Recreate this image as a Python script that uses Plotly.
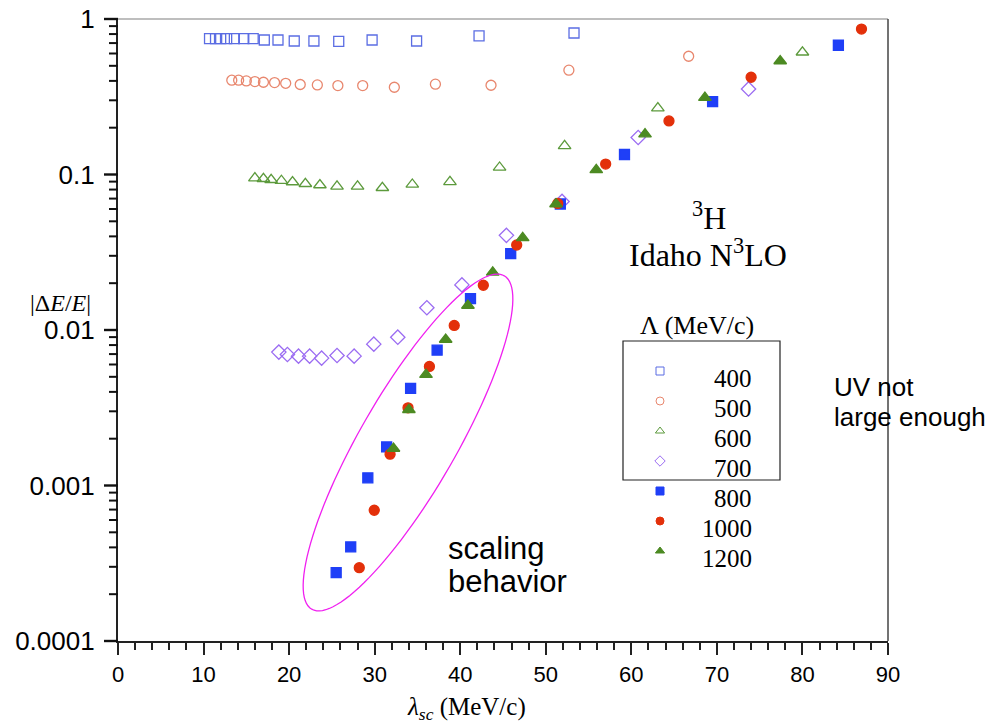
import numpy as np
import plotly.graph_objects as go

# ---------------- data ----------------
x400 = [10.7, 11.4, 12.0, 12.7, 13.6, 14.7, 15.8, 17.1, 18.7, 20.6, 22.9, 25.8, 29.7, 34.9, 42.2, 53.3]
y400 = [0.747, 0.747, 0.747, 0.747, 0.747, 0.747, 0.747, 0.733, 0.733, 0.722, 0.722, 0.719, 0.733, 0.722, 0.778, 0.813]

x500 = [13.3, 14.1, 15.0, 16.0, 17.0, 18.3, 19.6, 21.3, 23.3, 25.7, 28.6, 32.3, 37.1, 43.6, 52.7, 66.7]
y500 = [0.404, 0.404, 0.400, 0.396, 0.392, 0.390, 0.386, 0.379, 0.377, 0.373, 0.373, 0.364, 0.381, 0.375, 0.469, 0.576]

x600 = [16.0, 17.0, 17.9, 19.1, 20.4, 21.9, 23.6, 25.6, 28.0, 30.9, 34.4, 38.8, 44.6, 52.2, 63.1, 80.0]
y600 = [0.0948, 0.0939, 0.0925, 0.0912, 0.0895, 0.0872, 0.0856, 0.0839, 0.0839, 0.0822, 0.0863, 0.0897, 0.111, 0.153, 0.267, 0.611]

x700 = [18.8, 19.8, 21.1, 22.4, 23.8, 25.6, 27.6, 29.9, 32.7, 36.1, 40.2, 45.4, 51.9, 60.8, 73.7]
y700 = [0.00721, 0.00696, 0.00679, 0.00679, 0.00659, 0.00686, 0.00679, 0.00811, 0.00899, 0.0139, 0.0195, 0.0406, 0.0671, 0.173, 0.355]

x800 = [25.5, 27.2, 29.2, 31.4, 34.2, 37.3, 41.2, 45.9, 51.7, 59.2, 69.5, 84.2]
y800 = [0.000275, 0.000403, 0.00112, 0.00177, 0.00421, 0.00742, 0.0159, 0.0310, 0.0646, 0.1345, 0.294, 0.678]

x1000 = [28.2, 29.95, 31.8, 33.9, 36.4, 39.3, 42.7, 46.6, 51.4, 57.0, 64.4, 74.0, 86.9]
y1000 = [0.000296, 0.000693, 0.00159, 0.00316, 0.00583, 0.0107, 0.0194, 0.0352, 0.0652, 0.1167, 0.221, 0.422, 0.862]

x1200 = [32.2, 34.0, 36.0, 38.3, 40.9, 43.8, 47.3, 51.2, 55.9, 61.6, 68.6, 77.4]
y1200 = [0.00173, 0.00307, 0.00516, 0.00869, 0.01437, 0.0235, 0.0391, 0.0646, 0.107, 0.182, 0.312, 0.537]

cutoffs = ["400", "500", "600", "700", "800", "1000", "1200"]
xs = [x400, x500, x600, x700, x800, x1000, x1200]
ys = [y400, y500, y600, y700, y800, y1000, y1200]

symbols = ["square-open", "circle-open", "triangle-up-open", "diamond-open", "square", "circle", "triangle-up"]
colors = ["#5b6de3", "#e8876e", "#5c9a3c", "#9b6cf2", "#1f3ff7", "#e3300a", "#4c8a22"]
sizes = [10, 10, 11, 11, 10, 10, 11]

ytickvals = [1e-4, 1e-3, 1e-2, 1e-1, 1]
yticktext = ["0.0001", "0.001", "0.01", "0.1", "1"]
yminor = [m * 10.0 ** e for e in range(-4, 0) for m in range(2, 10)]

# ---------------- layout geometry (pixels) ----------------
W, H = 1007, 725
L, R, T, B = 118, 888, 19, 641
YMIN, YMAX = -4, 0


def px2paper(px, py):
    return (px - L) / (R - L), (B - py) / (B - T)


fig = go.Figure()

for name, x, y, s, c, z in zip(cutoffs, xs, ys, symbols, colors, sizes):
    fig.add_trace(go.Scatter(
        x=x, y=y, mode="markers", name=name, showlegend=False,
        marker=dict(symbol=s, color=c, size=z, line=dict(width=1.3, color=c)),
        cliponaxis=False,
    ))

# ---------------- custom legend ----------------
leg_mx, leg_y0, leg_step = 660, 371, 30.0
lx, ly = [], []
for i in range(len(cutoffs)):
    px, py = px2paper(leg_mx, leg_y0 + i * leg_step)
    lx.append(px)
    ly.append(py)
for i, (s, c) in enumerate(zip(symbols, colors)):
    fig.add_trace(go.Scatter(
        x=[lx[i]], y=[ly[i]], xaxis="x2", yaxis="y2", mode="markers", showlegend=False,
        marker=dict(symbol=s, color=c, size=8, line=dict(width=1, color=c)),
        hoverinfo="skip",
    ))

annotations = []
serif = "Liberation Serif, Times New Roman, serif"
sans = "Liberation Sans, Arial, Helvetica, sans-serif"
for i, name in enumerate(cutoffs):
    px, py = px2paper(754, 378 + i * leg_step)
    annotations.append(dict(x=px, y=py, xref="paper", yref="paper", text=name, showarrow=False,
                            xanchor="right", yanchor="middle", font=dict(family=serif, size=25, color="black")))


def ann(px, py, text, font, size, xanchor="center"):
    x, y = px2paper(px, py)
    annotations.append(dict(x=x, y=y, xref="paper", yref="paper", text=text, showarrow=False,
                            xanchor=xanchor, yanchor="middle", font=dict(family=font, size=size, color="black")))


ann(697, 326, "Λ (MeV/c)", serif, 26)
ann(709, 216, "<sup>3</sup>H", serif, 32)
ann(708, 253, "Idaho N<sup>3</sup>LO", serif, 32)
ann(446, 548, "scaling", sans, 31, "left")
ann(446, 581, "behavior", sans, 31, "left")
ann(832, 387, "UV not", sans, 26, "left")
ann(832, 417, "large enough", sans, 26, "left")
ann(60, 303, "|Δ<i>E</i>/<i>E</i>|", serif, 24)
ann(466, 708, "<i>λ</i><sub><i>sc</i></sub> (MeV/c)", serif, 25)

# ---------------- shapes: legend box, frame, axis ticks, ellipse ----------------
shapes = []
bx0, by0 = px2paper(623, 341)
bx1, by1 = px2paper(780, 480)
shapes.append(dict(type="rect", xref="paper", yref="paper", x0=bx0, y0=by1, x1=bx1, y1=by0,
                   line=dict(color="#222", width=1.2)))
shapes.append(dict(type="line", xref="paper", yref="paper", x0=0, y0=1, x1=1, y1=1,
                   line=dict(color="#a8a8a8", width=1.5)))
shapes.append(dict(type="line", xref="paper", yref="paper", x0=1, y0=0, x1=1, y1=1,
                   line=dict(color="#444", width=1.5)))


# log-axis ticks drawn as paper shapes just left of the y axis line
def ytick_shape(v, length, width):
    yp = (np.log10(v) - YMIN) / (YMAX - YMIN)
    return dict(type="line", xref="paper", yref="paper", layer="above",
                x0=-length / (R - L), x1=0, y0=yp, y1=yp,
                line=dict(color="#111", width=width))


for v in yminor:
    shapes.append(ytick_shape(v, 9, 2.0))
for v in ytickvals:
    shapes.append(ytick_shape(v, 14, 2.4))

cx, cy, a, b, ang = 408, 442.5, 192.5, 48, np.deg2rad(60.0)
t = np.linspace(0, 2 * np.pi, 121)
ex = cx + a * np.cos(t) * np.cos(ang) - b * np.sin(t) * np.sin(ang)
ey = cy - (a * np.cos(t) * np.sin(ang) + b * np.sin(t) * np.cos(ang))
pts = [px2paper(u, v) for u, v in zip(ex, ey)]
path = "M " + " L ".join(f"{u:.5f},{v:.5f}" for u, v in pts) + " Z"
shapes.append(dict(type="path", xref="paper", yref="paper", path=path,
                   line=dict(color="#f020f0", width=1.3)))

fig.update_layout(
    template="none",
    width=W, height=H, autosize=False,
    margin=dict(l=L, r=W - R, t=T, b=H - B, pad=0),
    paper_bgcolor="white", plot_bgcolor="white",
    showlegend=False,
    annotations=annotations,
    shapes=shapes,
    xaxis=dict(
        range=[0, 90], showgrid=False, zeroline=False, automargin=False,
        showline=True, linecolor="#222", linewidth=2.2,
        ticks="outside", tickvals=list(range(0, 100, 10)), ticklen=12, tickwidth=2, tickcolor="#222",
        tickfont=dict(family=sans, size=22, color="black"),
        minor=dict(ticks="outside", dtick=2, ticklen=7, tickwidth=2, tickcolor="#222", showgrid=False),
    ),
    yaxis=dict(
        type="log", range=[YMIN, YMAX], showgrid=False, zeroline=False, automargin=False,
        showline=True, linecolor="#222", linewidth=2.2,
        ticks="", tickvals=ytickvals, ticktext=yticktext, ticklabelstandoff=16,
        tickfont=dict(family=sans, size=26, color="black"),
    ),
    xaxis2=dict(overlaying="x", range=[0, 1], visible=False, fixedrange=True, automargin=False),
    yaxis2=dict(overlaying="y", range=[0, 1], visible=False, fixedrange=True, automargin=False),
)

fig.write_html("out.html", config={"displayModeBar": False},
               post_script="document.body.style.margin='0';")
